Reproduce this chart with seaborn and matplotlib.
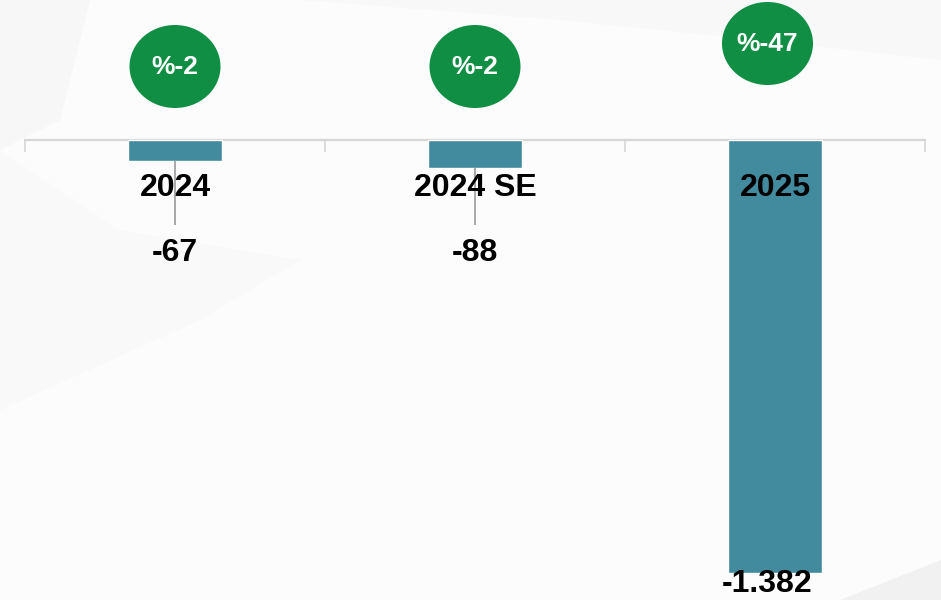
import matplotlib
matplotlib.use("Agg")
import matplotlib.pyplot as plt
from matplotlib import font_manager
from matplotlib.patches import Ellipse, Polygon
import seaborn as sns

# ---- data ----
categories = ["2024", "2024 SE", "2025"]
values = [-67, -88, -1382]
value_labels = ["-67", "-88", "-1.382"]
badge_labels = ["%-2", "%-2", "%-47"]

BAR_COLOR = "#428a9e"
BADGE_COLOR = "#108e44"
AXIS_COLOR = "#d6d6d6"
LEADER_COLOR = "#a8a8a8"

def pick_font(cands):
    for c in cands:
        try:
            font_manager.findfont(font_manager.FontProperties(family=c), fallback_to_default=False)
            return c
        except Exception:
            continue
    return "DejaVu Sans"

sns.set_theme(style="white")
cond_font = pick_font(["Liberation Sans Narrow", "Liberation Sans", "DejaVu Sans"])
reg_font = pick_font(["Liberation Sans", "DejaVu Sans"])
plt.rcParams["font.family"] = [reg_font, "DejaVu Sans"]

W, H, DPI = 941, 600, 100
fig = plt.figure(figsize=(W / DPI, H / DPI), dpi=DPI, facecolor="#fcfcfc")

# background axes for faint decorative shapes (pixel coords, origin top-left)
bg = fig.add_axes([0, 0, 1, 1], zorder=-5)
bg.set_xlim(0, W)
bg.set_ylim(H, 0)
bg.axis("off")
def bpoly(pts, color):
    bg.add_patch(Polygon(pts, closed=True, facecolor=color, edgecolor="none"))

bpoly([(0, 0), (941, 0), (941, 60), (760, 40), (560, 20), (300, 0)], "#f8f8f8")
bpoly([(0, 0), (90, 0), (60, 120), (0, 150)], "#f7f7f7")
bpoly([(0, 150), (120, 230), (300, 260), (200, 320), (0, 410)], "#f9f9f9")
bpoly([(840, 600), (941, 560), (941, 600)], "#f1f1f1")

ax = fig.add_axes([0, 0, 1, 1], zorder=1)
ax.set_facecolor("none")

sns.barplot(x=categories, y=values, color=BAR_COLOR, saturation=1, width=0.313,
            ax=ax, zorder=2)

# scale: x category bands 300px wide starting at px 25, y zero at px 140
x_left = -0.5 - 25 / 300
x_right = x_left + W / 300
ax.set_xlim(x_left, x_right)
ppu = 433 / 1382.0  # pixels per data unit
ax.set_ylim(-(H - 140) / ppu, 140 / ppu)

for s in ["top", "right", "left"]:
    ax.spines[s].set_visible(False)
ax.spines["bottom"].set_position(("data", 0))
ax.spines["bottom"].set_bounds(-0.5, 2.5)
ax.spines["bottom"].set_color(AXIS_COLOR)
ax.spines["bottom"].set_linewidth(1.6)
ax.spines["bottom"].set_zorder(1)
ax.set_xticks([-0.5, 0.5, 1.5, 2.5])
ax.tick_params(axis="x", length=8.6, width=1.2, color=AXIS_COLOR, direction="out",
               labelbottom=False, bottom=True)
ax.set_yticks([])
ax.set_xlabel("")
ax.set_ylabel("")

def px2d(py):
    """figure pixel row (from top) -> data y"""
    return (140 - py) / ppu

label_font = dict(family=[cond_font, "DejaVu Sans"], fontsize=23, fontweight="bold", color="black")

for i, (cat, v, vl, bl) in enumerate(zip(categories, values, value_labels, badge_labels)):
    # category label
    ax.text(i, px2d(188), cat, ha="center", va="center", zorder=5, **label_font)
    bar_end_px = 140 + abs(v) * ppu
    if abs(v) < 300:
        # leader line + value label below
        ax.plot([i, i], [v, px2d(225)], color=LEADER_COLOR, lw=1.4, zorder=4,
                solid_capstyle="butt")
        ax.text(i, px2d(253), vl, ha="center", va="center", zorder=5, **label_font)
    else:
        ax.text(i - 0.025, px2d(bar_end_px + 11), vl, ha="center", va="center", zorder=5,
                **label_font)

    # badge ellipse
    cy = 66.5 if abs(v) < 300 else 43.5
    cx = i if abs(v) < 300 else i - 0.025
    e = Ellipse((cx, px2d(cy)), width=91 / 300, height=83 / ppu, facecolor=BADGE_COLOR,
                edgecolor="none", zorder=3)
    ax.add_patch(e)
    ax.text(cx, px2d(cy), bl, ha="center", va="center", color="white", fontsize=19,
            fontweight="bold", family=[reg_font, "DejaVu Sans"], zorder=6)

fig.savefig("out.png", dpi=DPI, facecolor=fig.get_facecolor())
